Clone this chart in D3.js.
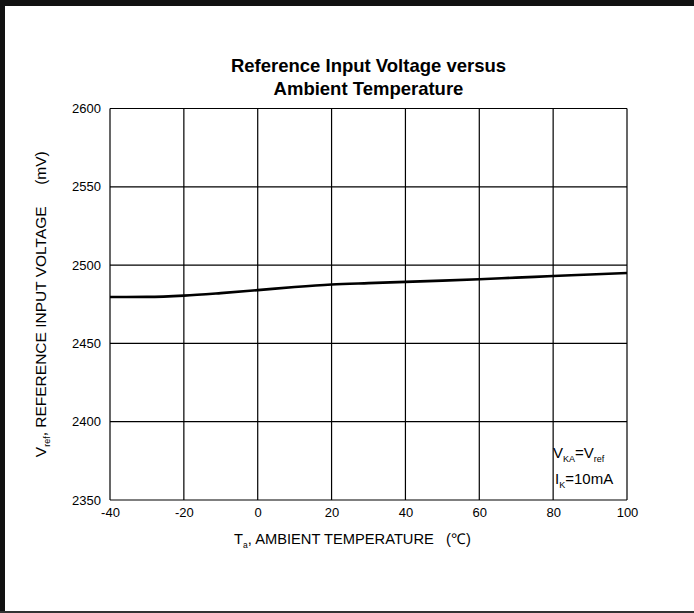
<!DOCTYPE html>
<html>
<head>
<meta charset="utf-8">
<script src="https://cdn.jsdelivr.net/npm/d3@7"></script>
<style>
  body { margin: 0; background: #fff; }
  svg { display: block; font-family: "Liberation Sans", Arial, sans-serif; }
</style>
</head>
<body>
<svg width="694" height="613"></svg>
<script>
// chart data
var temps = [-40, -30, -20, -10, 0, 10, 20, 30, 40, 50, 60, 70, 80, 90, 100];
var vref = [2479.6, 2479.7, 2480.5, 2482.1, 2484.0, 2486.0, 2487.6, 2488.5, 2489.3, 2490.1, 2491.0, 2492.0, 2493.0, 2494.0, 2495.0];
var xTicks = [-40, -20, 0, 20, 40, 60, 80, 100];
var yTicks = [2350, 2400, 2450, 2500, 2550, 2600];

var svg = d3.select("svg"),
	width = +svg.attr("width"),
	height = +svg.attr("height");

var plotL = 110, plotR = 627, plotT = 108.5, plotB = 500;

var x = d3.scaleLinear().domain([-40, 100]).range([plotL, plotR]);
var y = d3.scaleLinear().domain([2350, 2600]).range([plotB, plotT]);

// outer frame (top, left, bottom edges)
svg.append("rect").attr("x", 0).attr("y", 0).attr("width", width).attr("height", 6).style("fill", "#111");
svg.append("rect").attr("x", 0).attr("y", 0).attr("width", 5).attr("height", height).style("fill", "#111");
svg.append("rect").attr("x", 0).attr("y", height - 2).attr("width", width).attr("height", 2).style("fill", "#333");

// grid
var grid = svg.append("g").style("stroke", "#000").style("stroke-width", 1.2);
grid.selectAll("line.v")
	.data(xTicks)
	.enter().append("line")
	.attr("class", "v")
	.attr("x1", function (d) { return x(d); })
	.attr("x2", function (d) { return x(d); })
	.attr("y1", plotT)
	.attr("y2", plotB);
grid.selectAll("line.h")
	.data(yTicks)
	.enter().append("line")
	.attr("class", "h")
	.attr("x1", plotL)
	.attr("x2", plotR)
	.attr("y1", function (d) { return y(d); })
	.attr("y2", function (d) { return y(d); });

// axes (labels only, grid does the lines)
var plain = function (d) { return String(d); };
var xAxis = svg.append("g")
	.attr("transform", "translate(0," + plotB + ")")
	.call(d3.axisBottom(x).tickValues(xTicks).tickSize(0).tickPadding(8).tickFormat(plain));
var yAxis = svg.append("g")
	.attr("transform", "translate(" + plotL + ",0)")
	.call(d3.axisLeft(y).tickValues(yTicks).tickSize(0).tickPadding(9).tickFormat(plain));
[xAxis, yAxis].forEach(function (a) {
	a.select(".domain").remove();
	a.selectAll("text").style("font-size", "13px").style("fill", "#000")
		.style("font-family", "'Liberation Sans', Arial, sans-serif");
});

// curve
var line = d3.line()
	.x(function (d, i) { return x(temps[i]); })
	.y(function (d) { return y(d); })
	.curve(d3.curveMonotoneX);
svg.append("path")
	.datum(vref)
	.attr("d", line)
	.style("fill", "none")
	.style("stroke", "#000")
	.style("stroke-width", 2.6);

// title
var title = svg.append("text")
	.attr("text-anchor", "middle")
	.style("font-size", "18.5px")
	.style("font-weight", "bold");
title.append("tspan").attr("x", (plotL + plotR) / 2).attr("y", 72).text("Reference Input Voltage versus");
title.append("tspan").attr("x", (plotL + plotR) / 2).attr("y", 95).text("Ambient Temperature");

// x axis title
var xt = svg.append("text")
	.attr("x", (plotL + plotR) / 2 - 16)
	.attr("y", 544)
	.attr("text-anchor", "middle")
	.style("font-size", "14.7px");
xt.append("tspan").text("T");
xt.append("tspan").attr("dy", 4).style("font-size", "8.5px").text("a");
xt.append("tspan").attr("dy", -4).text(", AMBIENT TEMPERATURE\u00a0\u00a0\u00a0(\u2103)");

// y axis title
var yt = svg.append("text")
	.attr("transform", "translate(46," + ((plotT + plotB) / 2) + ") rotate(-90)")
	.attr("text-anchor", "middle")
	.style("font-size", "15.5px");
yt.append("tspan").text("V");
yt.append("tspan").attr("dy", 4).style("font-size", "9px").text("ref");
yt.append("tspan").attr("dy", -4).text(", REFERENCE INPUT VOLTAGE\u00a0\u00a0\u00a0\u00a0\u00a0(mV)");

// condition note
var n1 = svg.append("text").attr("x", 553).attr("y", 458).style("font-size", "15px");
n1.append("tspan").text("V");
n1.append("tspan").attr("dy", 4).style("font-size", "9px").text("KA");
n1.append("tspan").attr("dy", -4).text("=V");
n1.append("tspan").attr("dy", 4).style("font-size", "9px").text("ref");
var n2 = svg.append("text").attr("x", 555).attr("y", 484).style("font-size", "15px");
n2.append("tspan").text("I");
n2.append("tspan").attr("dy", 4).style("font-size", "9px").text("K");
n2.append("tspan").attr("dy", -4).text("=10mA");
</script>
</body>
</html>
